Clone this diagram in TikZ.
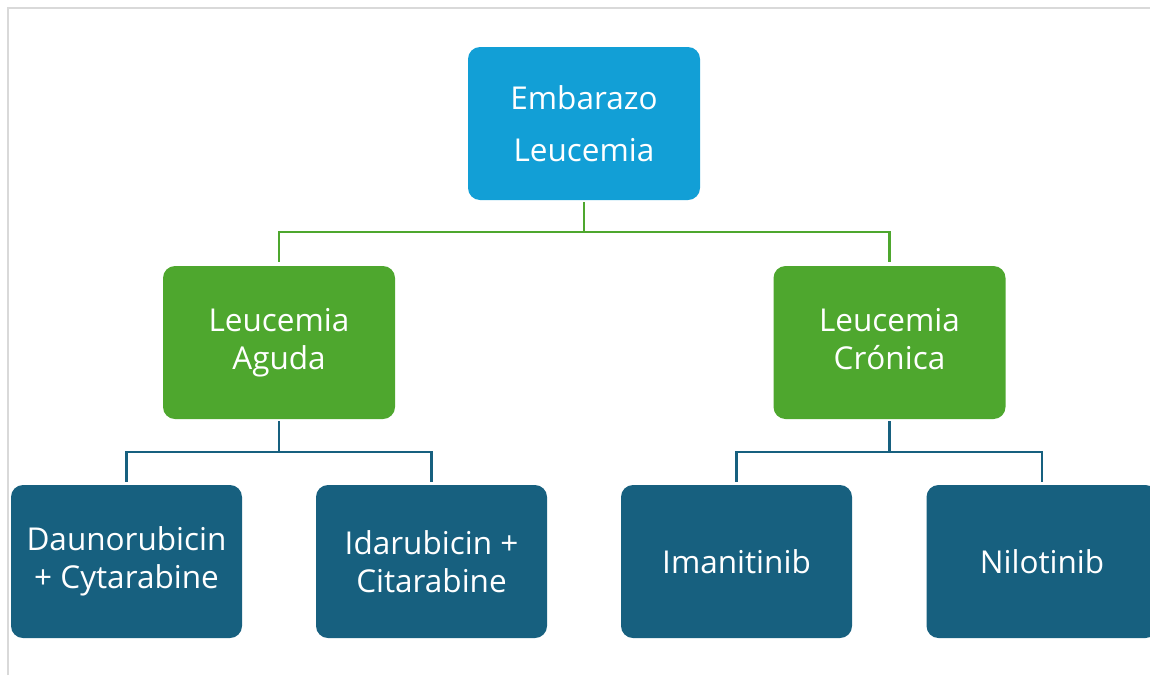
\documentclass[tikz,border=0pt]{standalone}
\usepackage{fontspec}
\setmainfont{Open Sans}
\definecolor{topblue}{HTML}{129FD6}
\definecolor{leafgreen}{HTML}{4EA72E}
\definecolor{darkteal}{HTML}{17607F}
\definecolor{framegray}{HTML}{D9D9D9}
\begin{document}
\begin{tikzpicture}[x=1pt,y=-1pt,
  box/.style={rounded corners=12pt, minimum width=232pt, minimum height=153pt,
    inner sep=0pt, text=white, align=center,
    font=\fontsize{31.5}{38}\selectfont},
  rootbox/.style={box, fill=topblue},
  midbox/.style={box, fill=leafgreen},
  leafbox/.style={box, fill=darkteal, minimum width=231pt},
  gline/.style={draw=leafgreen, line width=2.5pt, shorten <=2pt, shorten >=4pt},
  bline/.style={draw=darkteal, line width=2.5pt, shorten <=2pt, shorten >=3pt}]
\useasboundingbox (0,0) rectangle (1150,675);
\clip (0,0) rectangle (1150,675);
\draw[framegray, line width=2pt] (7.5,675) -- (7.5,7.5) -- (1150,7.5);

\node[rootbox] (root) at (584,123.5) {Embarazo\\[14pt]Leucemia};
\node[midbox] (aguda) at (279,342.5) {Leucemia\\Aguda};
\node[midbox] (cronica) at (889.5,342.5) {Leucemia\\Cr\smash{ó}nica\vphantom{g}};
\node[leafbox] (dauno) at (126.5,561.5) {Daunorubicin\\+ Cytarabine};
\node[leafbox] (idaru) at (431.5,561.5) {Idarubicin +\\Citarabine};
\node[leafbox] (imani) at (736.5,561.5) {Imanitinib};
\node[leafbox] (nilo) at (1042,561.5) {Nilotinib};

\draw[gline] (root.south) -- ++(0,32) -| (aguda.north);
\draw[gline] (root.south) -- ++(0,32) -| (cronica.north);
\draw[bline] (aguda.south) -- ++(0,33) -| (dauno.north);
\draw[bline] (aguda.south) -- ++(0,33) -| (idaru.north);
\draw[bline] (cronica.south) -- ++(0,33) -| (imani.north);
\draw[bline] (cronica.south) -- ++(0,33) -| (nilo.north);
\end{tikzpicture}
\end{document}
